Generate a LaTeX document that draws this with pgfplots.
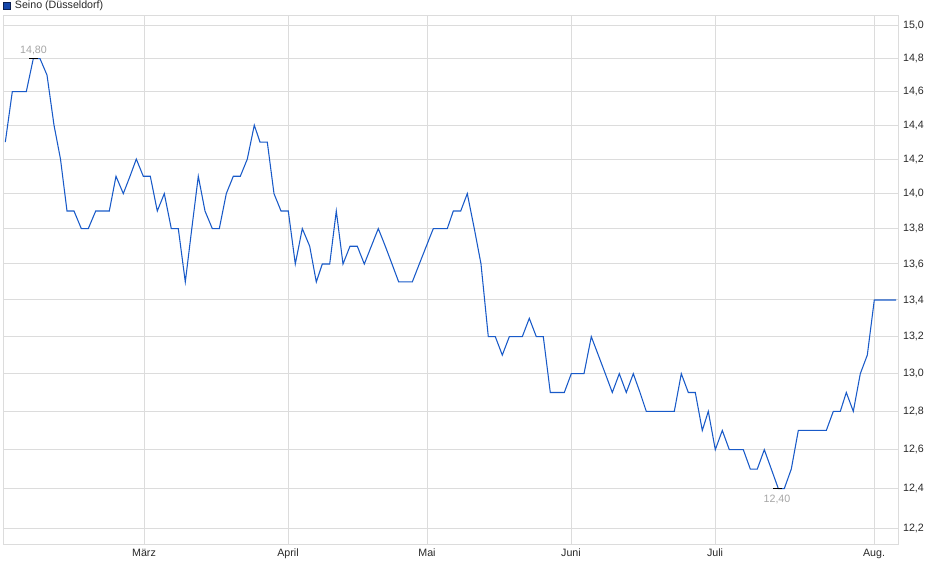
\documentclass[border=0pt]{standalone}
\usepackage{pgfplots}
\pgfplotsset{compat=1.18}
\usepackage{fontspec}
\setmainfont{Liberation Sans}
\definecolor{lineblue}{RGB}{25,90,200}
\definecolor{legblue}{RGB}{20,70,170}
\definecolor{legborder}{RGB}{10,30,80}
\definecolor{gridgray}{RGB}{220,220,220}
\definecolor{ticktext}{RGB}{40,40,40}
\definecolor{annot}{RGB}{165,165,165}
\pgfplotstableread{
x y
5.3 14.3
12.3 14.6
19.3 14.6
26.3 14.6
33.3 14.8
40 14.8
47 14.7
54 14.4
60.5 14.2
67 13.9
74 13.9
81.3 13.8
88.3 13.8
95.7 13.9
102.5 13.9
109.3 13.9
116 14.1
123.3 14.0
130 14.1
136.3 14.2
143.3 14.1
150.3 14.1
157.3 13.9
164.3 14.0
171.3 13.8
178.3 13.8
185.3 13.5
191.8 13.8
198.3 14.1
205 13.9
212.3 13.8
219.3 13.8
226.3 14.0
233.3 14.1
240.3 14.1
247.3 14.2
254.3 14.4
260 14.3
267.3 14.3
274 14.0
281 13.9
288.3 13.9
295.3 13.6
302.3 13.8
309.7 13.7
316.3 13.5
322.3 13.6
329.7 13.6
336.3 13.9
343 13.6
350 13.7
357.3 13.7
364.3 13.6
371.3 13.7
378.3 13.8
385.3 13.7
392 13.6
398.7 13.5
405.5 13.5
412.3 13.5
419.3 13.6
426.3 13.7
433.3 13.8
440.3 13.8
447.3 13.8
453.3 13.9
460.7 13.9
467.3 14.0
474.3 13.8
481 13.6
488.3 13.2
495.3 13.2
502.3 13.1
509.3 13.2
516 13.2
522.3 13.2
529.3 13.3
536.3 13.2
543.3 13.2
550.3 12.9
557.3 12.9
564.3 12.9
571.3 13.0
577.7 13.0
584 13.0
591.3 13.2
598.3 13.1
605.3 13.0
612.3 12.9
619.3 13.0
626.3 12.9
633.3 13.0
640 12.9
646.3 12.8
653.3 12.8
660.3 12.8
667.3 12.8
674.3 12.8
681.3 13.0
688.3 12.9
695.3 12.9
702.3 12.7
708.3 12.8
715.3 12.6
722.3 12.7
729.3 12.6
736.3 12.6
743.3 12.6
750.3 12.5
757.3 12.5
764.3 12.6
771.3 12.5
778.3 12.4
784.3 12.4
791.3 12.5
798.3 12.7
805.3 12.7
812.3 12.7
819.3 12.7
826.3 12.7
833.3 12.8
840.3 12.8
846.3 12.9
853.3 12.8
860.3 13.0
867.3 13.1
874.3 13.4
881.3 13.4
888.3 13.4
896 13.4
}\seino
\begin{document}
\begin{tikzpicture}
\path[use as bounding box] (0,0) rectangle (705pt,-434.25pt);
\filldraw[fill=legblue, draw=legborder, line width=0.6pt] (2.6pt,-1.9pt) rectangle (8.0pt,-7.3pt);
\node[anchor=west, inner sep=0pt, font=\fontsize{8}{9}\selectfont, text=ticktext] at (11.0pt,-4.6pt) {Seino (Düsseldorf)};
\begin{axis}[
  at={(2.25pt,-12pt)}, anchor=north west,
  scale only axis, width=671.25pt, height=396.75pt,
  xmin=3, xmax=898,
  ymode=log, ymin=12.1157, ymax=15.0618,
  axis line style={draw=gridgray, line width=0.75pt},
  grid=major, grid style={draw=gridgray, line width=0.75pt},
  major tick length=0pt,
  xtick={144,288,427,571,715,874},
  xticklabels={März,April,Mai,Juni,Juli,Aug.},
  xticklabel style={font=\fontsize{8}{9}\selectfont, text=ticktext, inner sep=0pt, anchor=north, yshift=-2.6pt},
  ytick={12.2,12.4,12.6,12.8,13.0,13.2,13.4,13.6,13.8,14.0,14.2,14.4,14.6,14.8,15.0},
  yticklabel pos=right,
  yticklabel={\pgfmathparse{exp(\tick)}\pgfmathprintnumber[fixed,fixed zerofill,precision=1,use comma,assume math mode=true]{\pgfmathresult}},
  yticklabel style={font=\fontsize{8}{9}\selectfont, text=ticktext, inner sep=0pt, anchor=west, xshift=3.6pt},
]
\addplot[lineblue, line width=0.8pt, mark=none] table[x=x,y=y] {\seino};
\draw[black, line width=0.9pt] (axis cs:29,14.8) -- (axis cs:38,14.8);
\node[text=annot, font=\fontsize{8}{9}\selectfont, inner sep=0pt, anchor=base] at (axis cs:33.5,14.8) [yshift=4.2pt] {14,80};
\draw[black, line width=0.9pt] (axis cs:773,12.4) -- (axis cs:782,12.4);
\node[text=annot, font=\fontsize{8}{9}\selectfont, inner sep=0pt, anchor=north] at (axis cs:777,12.4) [yshift=-4.5pt] {12,40};
\end{axis}
\end{tikzpicture}
\end{document}
